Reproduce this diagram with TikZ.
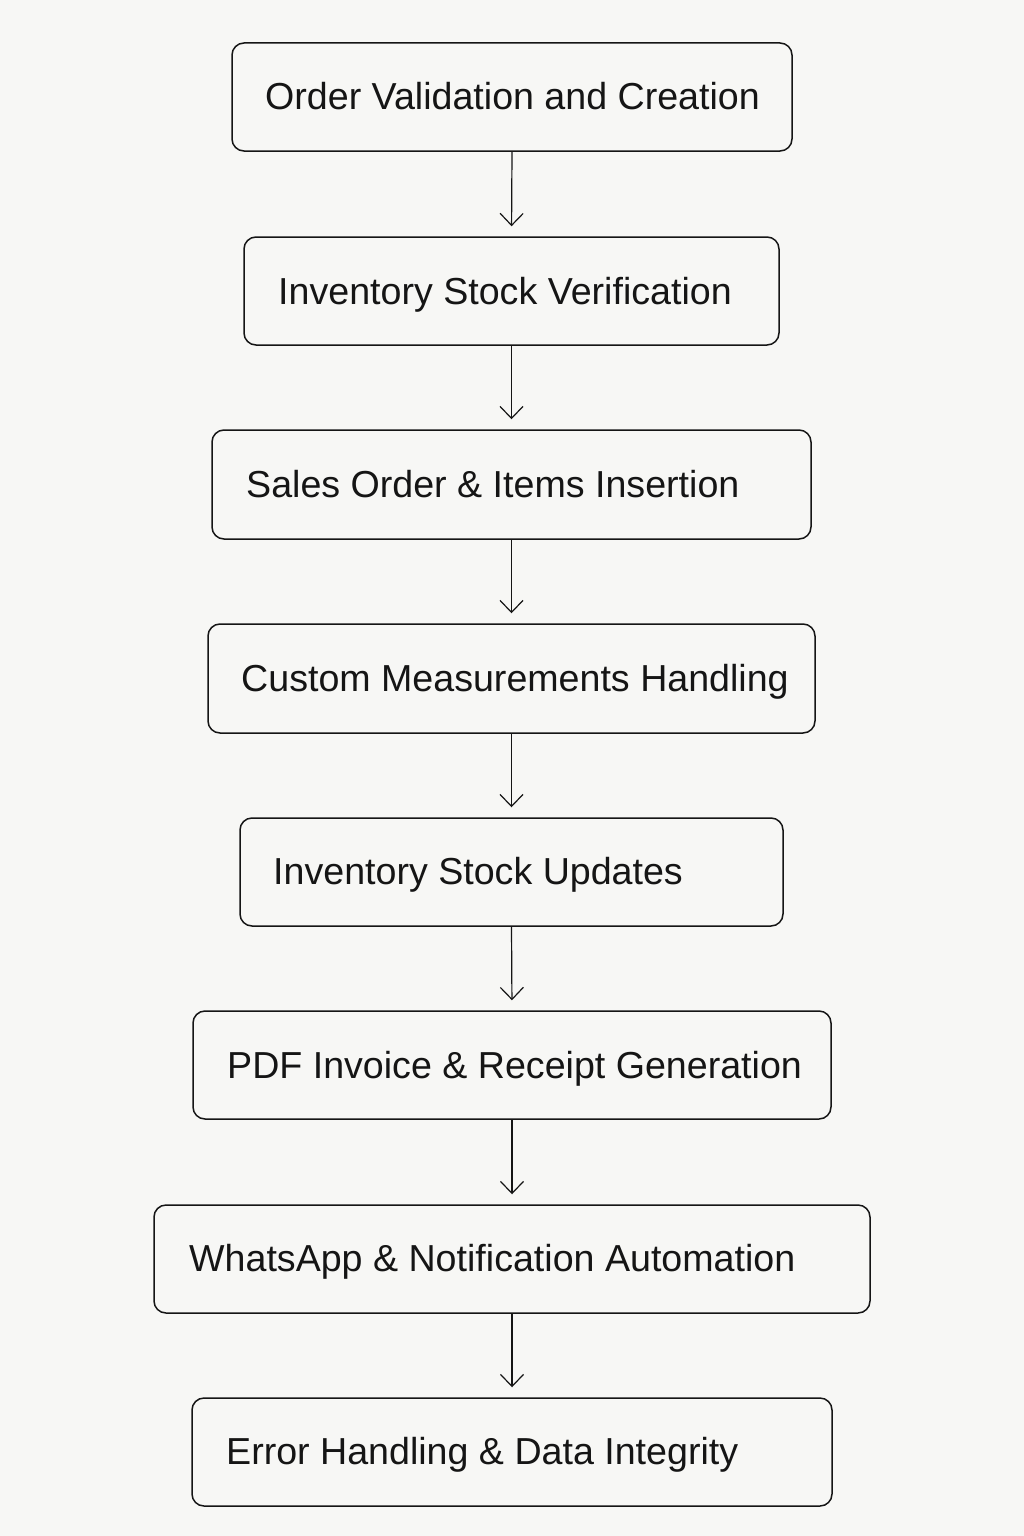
\documentclass[tikz,border=0pt]{standalone}
\usepackage{fontspec}
\setmainfont{Liberation Sans}
\usetikzlibrary{arrows.meta}
\definecolor{bgc}{HTML}{F7F7F5}
\definecolor{ink}{HTML}{151515}
\tikzset{
  stepbox/.style={draw=ink, line width=1.5pt, rounded corners=12pt, inner sep=0pt},
  steptext/.style={anchor=base west, inner sep=0pt, text=ink, font=\fontsize{37.6}{40}\selectfont},
  flow/.style={draw=ink, line width=1.2pt, shorten >=10pt, -{Straight Barb[length=12pt,width=23pt,line width=1.2pt]}}
}
\begin{document}
\begin{tikzpicture}[x=1pt,y=-1pt]
\fill[bgc] (0,0) rectangle (1024,1536);
\useasboundingbox (0,0) rectangle (1024,1536);
% boxes
\node[stepbox, minimum width=560pt, minimum height=108pt] (b1) at (512,97) {};
\node[stepbox, minimum width=535pt, minimum height=108pt] (b2) at (511.5,291) {};
\node[stepbox, minimum width=599pt, minimum height=109pt] (b3) at (511.5,484.5) {};
\node[stepbox, minimum width=607pt, minimum height=109pt] (b4) at (511.5,678.5) {};
\node[stepbox, minimum width=543pt, minimum height=108pt] (b5) at (511.5,872) {};
\node[stepbox, minimum width=638pt, minimum height=108pt] (b6) at (512,1065) {};
\node[stepbox, minimum width=716pt, minimum height=108pt] (b7) at (512,1259) {};
\node[stepbox, minimum width=640pt, minimum height=108pt] (b8) at (512,1452) {};
% texts
\node[steptext] (t1) at (265,110) {Order Validation and Creation};
\node[steptext] (t2) at (278,304) {Inventory Stock Verification};
\node[steptext] (t3) at (246,497) {Sales Order \& Items Insertion};
\node[steptext] (t4) at (241,691) {Custom Measurements Handling};
\node[steptext] (t5) at (273,884) {Inventory Stock Updates};
\node[steptext] (t6) at (227,1078) {PDF Invoice \& Receipt Generation};
\node[steptext] (t7) at (189,1271) {WhatsApp \& Notification Automation};
\node[steptext] (t8) at (226,1464) {Error Handling \& Data Integrity};
% arrows
\draw[flow] (b1.south) -- (b2.north);
\draw[flow] (b2.south) -- (b3.north);
\draw[flow] (b3.south) -- (b4.north);
\draw[flow] (b4.south) -- (b5.north);
\draw[flow] (b5.south) -- (b6.north);
\draw[flow] (b6.south) -- (b7.north);
\draw[flow] (b7.south) -- (b8.north);
\end{tikzpicture}
\end{document}
